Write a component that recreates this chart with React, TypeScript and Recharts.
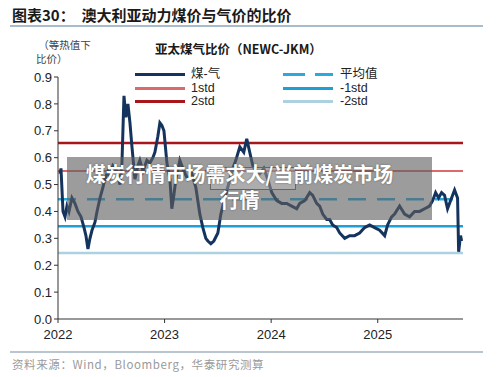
import React from 'react'
import { LineChart, Line, XAxis, YAxis, ReferenceLine } from 'recharts'

// 时间（年，小数）与 煤-气 比价
const dates = [
  2022.019, 2022.028, 2022.047, 2022.066, 2022.084, 2022.103, 2022.131, 2022.159, 2022.187, 2022.216,
  2022.244, 2022.262, 2022.281, 2022.3, 2022.319, 2022.347, 2022.366, 2022.394, 2022.422, 2022.44,
  2022.469, 2022.487, 2022.515, 2022.553, 2022.581, 2022.6, 2022.619, 2022.637, 2022.656, 2022.675,
  2022.694, 2022.722, 2022.75, 2022.768, 2022.797, 2022.834, 2022.862, 2022.89, 2022.909, 2022.937,
  2022.956, 2022.975, 2022.994, 2023.022, 2023.05, 2023.068, 2023.087, 2023.106, 2023.143, 2023.181,
  2023.218, 2023.256, 2023.293, 2023.331, 2023.359, 2023.387, 2023.406, 2023.434, 2023.462, 2023.5,
  2023.528, 2023.565, 2023.593, 2023.631, 2023.668, 2023.706, 2023.743, 2023.771, 2023.799, 2023.828,
  2023.856, 2023.893, 2023.931, 2023.968, 2024.006, 2024.053, 2024.099, 2024.146, 2024.193, 2024.24,
  2024.268, 2024.315, 2024.362, 2024.39, 2024.427, 2024.455, 2024.484, 2024.521, 2024.549, 2024.577,
  2024.615, 2024.643, 2024.69, 2024.736, 2024.783, 2024.83, 2024.877, 2024.924, 2024.971, 2025.018,
  2025.065, 2025.093, 2025.13, 2025.158, 2025.205, 2025.252, 2025.299, 2025.346, 2025.393, 2025.44,
  2025.486, 2025.515, 2025.543, 2025.571, 2025.599, 2025.627, 2025.655, 2025.683, 2025.721, 2025.749,
  2025.759, 2025.777, 2025.787,
]

const ratio = [
  0.54, 0.56, 0.4, 0.38, 0.42, 0.4, 0.45, 0.43, 0.4, 0.38,
  0.34, 0.31, 0.26, 0.3, 0.33, 0.36, 0.4, 0.45, 0.49, 0.52,
  0.55, 0.53, 0.57, 0.55, 0.5, 0.58, 0.83, 0.75, 0.8, 0.73,
  0.64, 0.52, 0.57, 0.59, 0.55, 0.59, 0.58, 0.6, 0.62, 0.68,
  0.73, 0.72, 0.7, 0.58, 0.52, 0.41, 0.46, 0.52, 0.59, 0.55,
  0.52, 0.54, 0.49, 0.39, 0.34, 0.3, 0.29, 0.28, 0.29, 0.32,
  0.39, 0.45, 0.49, 0.55, 0.59, 0.64, 0.62, 0.67, 0.62, 0.57,
  0.55, 0.54, 0.56, 0.52, 0.47, 0.44, 0.43, 0.43, 0.42, 0.41,
  0.43, 0.44, 0.47, 0.46, 0.43, 0.42, 0.39, 0.37, 0.37, 0.35,
  0.34, 0.32, 0.3, 0.31, 0.31, 0.32, 0.34, 0.35, 0.34, 0.33,
  0.31, 0.35, 0.38, 0.39, 0.42, 0.39, 0.38, 0.4, 0.4, 0.41,
  0.42, 0.44, 0.47, 0.45, 0.47, 0.46, 0.41, 0.44, 0.48, 0.45,
  0.25, 0.31, 0.29,
]

const yearTicks = [2022, 2023, 2024, 2025]
const yTicks = [0, 0.1, 0.2, 0.3, 0.4, 0.5, 0.6, 0.7, 0.8, 0.9]

// 均值与标准差带
const bands = [
  { name: '平均值', value: 0.445, color: '#2aa9dc', dash: '18 11', width: 2.5 },
  { name: '1std', value: 0.55, color: '#dd6a6a', dash: undefined, width: 2 },
  { name: '2std', value: 0.655, color: '#a8161c', dash: undefined, width: 2.5 },
  { name: '-1std', value: 0.345, color: '#1e9fd5', dash: undefined, width: 2.5 },
  { name: '-2std', value: 0.245, color: '#acd2e2', dash: undefined, width: 2.5 },
]

const SERIES_COLOR = '#14345e'

const data = dates.map((t, i) => ({ t, v: ratio[i] }))

const legendLeft = [
  { label: '煤-气', color: SERIES_COLOR, dash: undefined },
  { label: '1std', color: bands[1].color, dash: undefined },
  { label: '2std', color: bands[2].color, dash: undefined },
]
const legendRight = [
  { label: '平均值', color: bands[0].color, dash: '22 10' },
  { label: '-1std', color: bands[3].color, dash: undefined },
  { label: '-2std', color: bands[4].color, dash: undefined },
]

const cjk = '"Noto Sans CJK SC", "Liberation Sans", Arial, sans-serif'
const latin = '"Liberation Sans", Arial, "Noto Sans CJK SC", sans-serif'

function LegendCol({ items, x, textX }: { items: any[]; x: number; textX: number }) {
  return (
    <>
      {items.map((it, i) => (
        <div key={it.label} style={{ position: 'absolute', left: x, top: 68 + i * 13.7, height: 13, width: 120 }}>
          <svg width={51} height={13} style={{ position: 'absolute', left: 0, top: 0 }}>
            <line x1={0} y1={6.5} x2={50} y2={6.5} stroke={it.color} strokeWidth={3} strokeDasharray={it.dash} />
          </svg>
          <span
            style={{
              position: 'absolute',
              left: textX,
              top: -2,
              fontSize: 12.5,
              lineHeight: '16px',
              color: '#222',
              fontFamily: latin,
              whiteSpace: 'nowrap',
            }}
          >
            {it.label}
          </span>
        </div>
      ))}
    </>
  )
}

export default function App() {
  return (
    <div style={{ position: 'absolute', left: 0, top: 0, width: 500, height: 377, background: '#fff', overflow: 'hidden' }}>
      <div
        style={{
          position: 'absolute',
          left: 12,
          top: 5,
          fontSize: 15,
          fontWeight: 700,
          color: '#1a1a1a',
          fontFamily: cjk,
          whiteSpace: 'nowrap',
          lineHeight: '20px',
        }}
      >
        图表30：&nbsp;&nbsp;澳大利亚动力煤价与气价的比价
      </div>
      <div style={{ position: 'absolute', left: 10, top: 25, width: 473, height: 2, background: '#a9bccb' }} />

      <LineChart width={500} height={377} data={data} margin={{ top: 77, right: 37, bottom: 28, left: 8 }}>
        <XAxis
          dataKey="t"
          type="number"
          domain={[2022, 2025.8]}
          ticks={yearTicks}
          tickFormatter={(v: number) => String(v)}
          tick={{ fontSize: 13, fill: '#222', fontFamily: latin, dy: 5 }}
          stroke="#333"
          tickSize={4}
          height={30}
          allowDataOverflow
        />
        <YAxis
          type="number"
          domain={[0, 0.9]}
          ticks={yTicks}
          tickFormatter={(v: number) => v.toFixed(1)}
          tick={{ fontSize: 13, fill: '#222', fontFamily: latin }}
          stroke="#333"
          tickSize={4}
          width={50}
          interval={0}
        />
        {bands.map((b) => (
          <ReferenceLine
            key={b.name}
            y={b.value}
            stroke={b.color}
            strokeWidth={b.width}
            strokeDasharray={b.dash}
            ifOverflow="extendDomain"
          />
        ))}
        <Line
          type="linear"
          dataKey="v"
          stroke={SERIES_COLOR}
          strokeWidth={3}
          dot={false}
          isAnimationActive={false}
        />
      </LineChart>

      <div style={{ position: 'absolute', left: 36, top: 38, fontSize: 10.5, lineHeight: '14px', color: '#444', fontFamily: cjk }}>
        &nbsp;（等热值下
        <br />
        比价）
      </div>
      <div
        style={{
          position: 'absolute',
          left: 155,
          top: 40,
          fontSize: 12.5,
          fontWeight: 700,
          color: '#1a1a1a',
          fontFamily: cjk,
          whiteSpace: 'nowrap',
          lineHeight: '18px',
        }}
      >
        亚太煤气比价（NEWC-JKM）
      </div>
      <LegendCol items={legendLeft} x={135} textX={56} />
      <LegendCol items={legendRight} x={283} textX={57} />

      {/* 水印遮罩 */}
      <div style={{ position: 'absolute', left: 67, top: 157, width: 365, height: 63, background: 'rgba(95,95,95,0.62)' }} />
      <div style={{ position: 'absolute', left: 210, top: 167, width: 84, height: 21, border: '1px solid #666', background: 'rgba(255,255,255,0.18)' }} />
      <div
        style={{
          position: 'absolute',
          left: 67,
          top: 161,
          width: 345,
          textAlign: 'center',
          color: '#fff',
          fontSize: 20,
          fontWeight: 700,
          lineHeight: '26px',
          fontFamily: cjk,
          textShadow: '0 0 2px rgba(0,0,0,0.4)',
        }}
      >
        煤炭行情市场需求大/当前煤炭市场
        <br />
        行情
      </div>

      <div style={{ position: 'absolute', left: 10, top: 351, width: 473, height: 2, background: '#b9c6cf' }} />
      <div
        style={{
          position: 'absolute',
          left: 12,
          top: 356,
          fontSize: 11.5,
          color: '#9a9a9a',
          fontFamily: cjk,
          whiteSpace: 'nowrap',
          lineHeight: '16px',
          letterSpacing: 0.6,
        }}
      >
        资料来源：Wind，Bloomberg，华泰研究测算
      </div>
    </div>
  )
}
